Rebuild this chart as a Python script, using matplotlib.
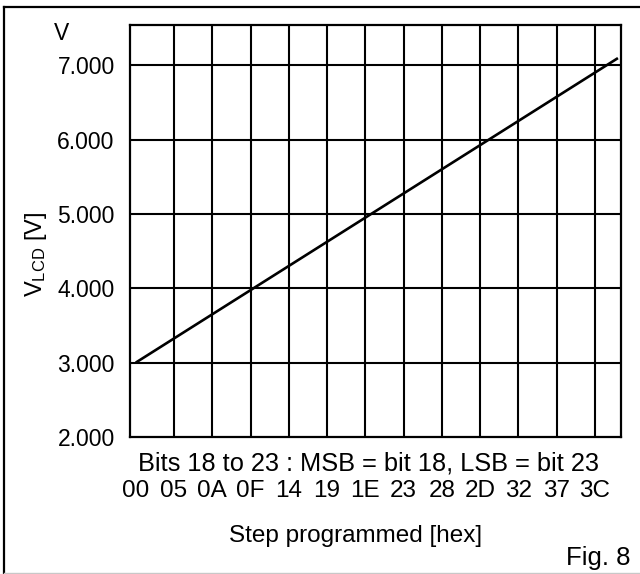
import matplotlib
matplotlib.use('Agg')
import matplotlib.pyplot as plt
from matplotlib.lines import Line2D

plt.rcParams['font.family'] = ['Liberation Sans', 'DejaVu Sans']

# step programmed (decimal) vs V_LCD
step = [0, 63]
vlcd = [3.000, 7.095]

grid_steps = [5, 10, 15, 20, 25, 30, 35, 40, 45, 50, 55, 60]
label_steps = [0, 5, 10, 15, 20, 25, 30, 35, 40, 45, 50, 55, 60]
hex_labels = ['00', '05', '0A', '0F', '14', '19', '1E', '23', '28', '2D', '32', '37', '3C']
y_ticks = [2, 3, 4, 5, 6, 7]
y_labels = ['2.000', '3.000', '4.000', '5.000', '6.000', '7.000']

W, H = 640, 574
fig = plt.figure(figsize=(6.4, 5.74), dpi=100)
ax = fig.add_axes([130 / W, (H - 437) / H, (621 - 130) / W, (437 - 25) / H])

ax.plot(step, vlcd, color='black', lw=1.9, solid_capstyle='butt')

for s in grid_steps:
    ax.axvline(s, color='black', lw=1.5)
for v in y_ticks[1:]:
    ax.axhline(v, color='black', lw=1.5)

ax.set_xlim(-0.75, 63.4)
ax.set_ylim(2.0, 7.54)
ax.set_xticks(label_steps)
ax.set_xticklabels(hex_labels, fontsize=17.5)
ax.tick_params(axis='x', length=0, pad=31)
ax.set_yticks(y_ticks)
ax.set_yticklabels(y_labels, fontsize=16.5)
ax.tick_params(axis='y', length=0, pad=11)
for sp in ax.spines.values():
    sp.set_linewidth(1.6)

def px(x, y):
    return x / W, 1 - y / H

fig.text(*px(62, 40), 'V', fontsize=16.5, ha='center', va='baseline')
fig.text(*px(36, 254), r'$\mathregular{V_{LCD}}$ [V]', fontsize=17,
         rotation=90, ha='center', va='center')
fig.text(*px(369, 470), 'Bits 18 to 23 : MSB = bit 18, LSB = bit 23',
         fontsize=18.3, ha='center', va='baseline')
fig.text(*px(356, 542), 'Step programmed [hex]', fontsize=17.5,
         ha='center', va='baseline')
fig.text(*px(631, 565), 'Fig. 8', fontsize=18.5, ha='right', va='baseline')

# frame around the figure
fig.add_artist(Line2D([4 / W, 4 / W], [1 - 7 / H, 1 - 573 / H], color='black', lw=1.6))
fig.add_artist(Line2D([4 / W, 1.0], [1 - 7 / H, 1 - 7 / H], color='black', lw=1.6))
fig.add_artist(Line2D([4 / W, 1.0], [1 - 573 / H, 1 - 573 / H], color='#c8c8c8', lw=1.0))

fig.savefig('out.png', dpi=100)
